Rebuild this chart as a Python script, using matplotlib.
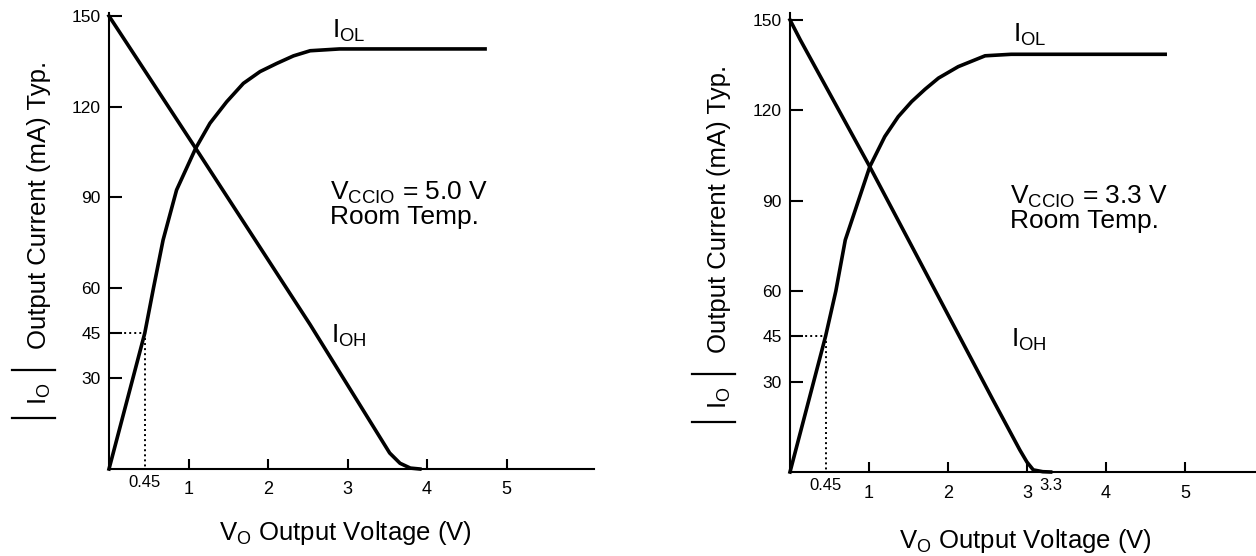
import matplotlib

matplotlib.use("Agg")
import matplotlib.pyplot as plt
from matplotlib.lines import Line2D

W_PX, H_PX = 1256, 556

# left panel, V_CCIO = 5.0 V
v5_ioh = [0, 1.09, 1.84, 2.53, 3.53, 3.66, 3.79, 3.91]
i5_ioh = [150, 106.2, 75.8, 47.8, 5.3, 1.9, 0.3, 0]
v5_iol = [0, 0.45, 0.56, 0.68, 0.85, 1.09, 1.27, 1.48, 1.69, 1.90, 2.11, 2.32, 2.53,
          2.9, 4.73]
i5_iol = [0, 45, 60, 75.8, 92.4, 106.2, 114.5, 121.6, 127.7, 131.6, 134.3, 136.8, 138.5,
          139.1, 139.1]
x5_ticks = [1, 2, 3, 4, 5]
x5_marks = ["0.45"]

# right panel, V_CCIO = 3.3 V
v33_ioh = [0, 0.13, 1.01, 1.50, 2.57, 2.91, 3.0, 3.08, 3.2, 3.3]
i33_ioh = [150, 143.4, 101.3, 77, 23.9, 7.3, 3.3, 0.7, 0.1, 0]
v33_iol = [0, 0.45, 0.58, 0.70, 1.01, 1.20, 1.37, 1.54, 1.71, 1.88, 2.13, 2.47, 2.8, 4.75]
i33_iol = [0, 45, 60, 77, 101.3, 111.3, 117.9, 122.9, 127.0, 130.7, 134.5, 138.1, 138.6,
           138.6]
x33_ticks = [1, 2, 3, 4, 5]
x33_marks = ["0.45", "3.3"]

y_ticks = [30, 45, 60, 90, 120, 150]
v_mark, i_mark = 0.45, 45

plt.rcParams["font.family"] = ["Liberation Sans", "DejaVu Sans"]
plt.rcParams["mathtext.fontset"] = "custom"
plt.rcParams["mathtext.rm"] = "Liberation Sans"
plt.rcParams["mathtext.it"] = "Liberation Sans:italic"


def fx(px):
    return px / W_PX


def fy(py):
    return 1 - py / H_PX


def draw_panel(ax, v_oh, i_oh, v_ol, i_ol, ticks, marks, xmax, ymax, vccio, x_lab):
    style = dict(color="black", lw=2.6, solid_joinstyle="round", clip_on=False)
    ax.plot(v_oh, i_oh, **style)
    ax.plot(v_ol, i_ol, **style)
    dots = dict(color="black", lw=1.4, ls=(0, (1.0, 1.6)))
    ax.plot([0, v_mark], [i_mark, i_mark], **dots)
    ax.plot([v_mark, v_mark], [i_mark, 0], **dots)

    ax.set_xlim(0, xmax)
    ax.set_ylim(0, ymax)
    for side in ("top", "right"):
        ax.spines[side].set_visible(False)
    for side in ("left", "bottom"):
        ax.spines[side].set_linewidth(1.5)

    ax.set_yticks(y_ticks)
    ax.set_yticklabels([str(t) for t in y_ticks])
    ax.set_xticks(ticks)
    ax.set_xticklabels([str(t) for t in ticks])
    ax.set_xticks([float(m) for m in marks], minor=True)
    ax.set_xticklabels(marks, minor=True)
    ax.tick_params(axis="y", direction="in", length=9.5, width=1.5, labelsize=12.5, pad=6)
    ax.tick_params(axis="x", which="major", direction="in", length=7, width=1.5,
                   labelsize=13, pad=9)
    ax.tick_params(axis="x", which="minor", length=0, labelsize=12, pad=4)

    ax.text(x_lab, 142.7, r"I$_{\mathrm{OL}}$", fontsize=19, va="baseline")
    ax.text(x_lab - 0.02, 41.7, r"I$_{\mathrm{OH}}$", fontsize=19, va="baseline")
    ax.text(x_lab - 0.03, 89, r"V$_{\mathrm{CCIO}}$ = " + vccio, fontsize=19,
            va="baseline")
    ax.text(x_lab - 0.03, 81.0, "Room Temp.", fontsize=19, va="baseline")


def ylabel_parts(fig, spine_px, bar_top, mid_px):
    x0, x1 = spine_px - 98, spine_px - 55
    for by in (bar_top, bar_top + 48):
        fig.add_artist(Line2D([fx(x0), fx(x1)], [fy(by), fy(by)], color="black", lw=1.6))
    fig.text(fx(spine_px - 70), fy(bar_top + 24), r"I$_{\mathrm{O}}$", fontsize=18.5,
             rotation=90, ha="center", va="center")
    fig.text(fx(spine_px - 71), fy(mid_px), "Output Current (mA) Typ.", fontsize=18.5,
             rotation=90, ha="center", va="center")


def main():
    fig = plt.figure(figsize=(W_PX / 100, H_PX / 100), dpi=100)

    ax_l = fig.add_axes([fx(109), fy(469), fx(594) - fx(109), (469 - 13) / H_PX])
    draw_panel(ax_l, v5_ioh, i5_ioh, v5_iol, i5_iol, x5_ticks, x5_marks, 6.1, 151,
               "5.0 V", 2.81)
    ax_r = fig.add_axes([fx(790), fy(472), fx(1256) - fx(790), (472 - 13) / H_PX])
    draw_panel(ax_r, v33_ioh, i33_ioh, v33_iol, i33_iol, x33_ticks, x33_marks, 5.9, 152.3,
               "3.3 V", 2.82)

    ylabel_parts(fig, 110, 370, 205)
    ylabel_parts(fig, 790, 374, 209)

    fig.text(fx(345), fy(540), r"V$_{\mathrm{O}}$ Output Voltage (V)", fontsize=18.5,
             ha="center", va="baseline")
    fig.text(fx(1025), fy(548), r"V$_{\mathrm{O}}$ Output Voltage (V)", fontsize=18.5,
             ha="center", va="baseline")

    fig.savefig("out.png", dpi=100)
    plt.close(fig)


if __name__ == "__main__":
    main()
